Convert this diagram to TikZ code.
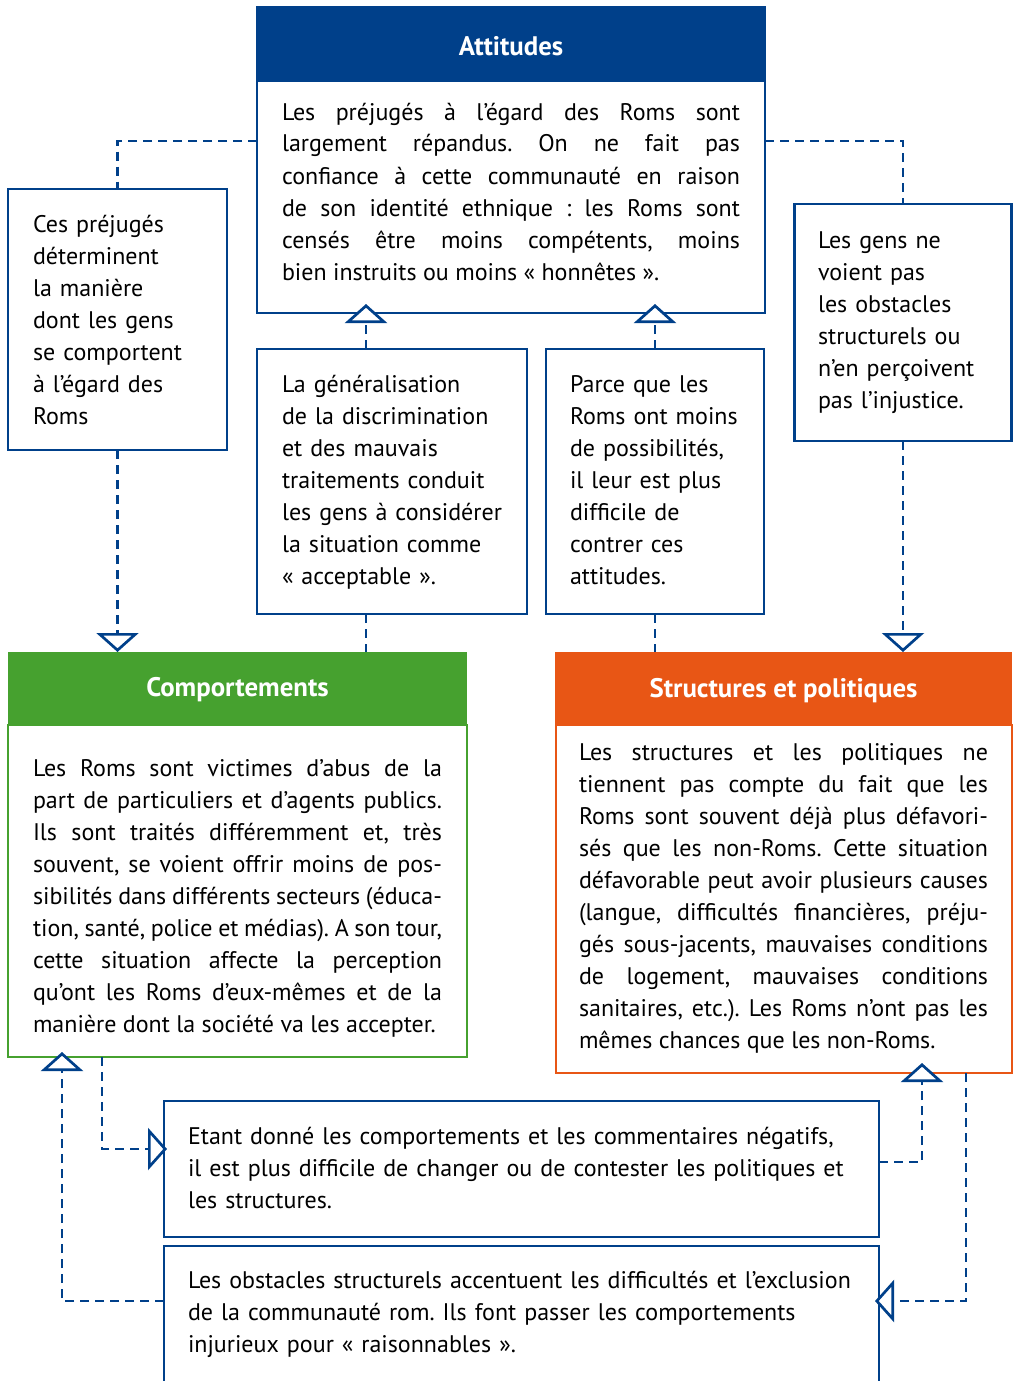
\documentclass[tikz,border=0pt]{standalone}
\usepackage{fontspec}
\setmainfont{PT Sans}
\usetikzlibrary{arrows.meta,calc}
\definecolor{rblue}{RGB}{0,64,138}
\definecolor{rgreen}{RGB}{70,161,47}
\definecolor{rorange}{RGB}{232,86,21}
\newcommand\rbody{\fontsize{24}{32}\selectfont}
\newcommand\rtitle{\fontsize{26.8}{30}\selectfont\bfseries}
\AtBeginDocument{\frenchspacing\tolerance=10000 \pretolerance=-1 \hyphenpenalty=10000 \exhyphenpenalty=10000 \emergencystretch=0pt}
\begin{document}
\begin{tikzpicture}[x=1pt,y=-1pt,
  rbox/.style={draw=rblue, line width=2.6pt, inner sep=0pt, outer sep=0pt, fill=white},
  gbox/.style={draw=rgreen, line width=2pt, inner sep=0pt, outer sep=0pt},
  obox/.style={draw=rorange, line width=2pt, inner sep=0pt, outer sep=0pt},
  txt/.style={font=\rbody, inner sep=0pt, outer sep=0pt, anchor=base west, text=black},
  jtxt/.style={txt, align=justify},
  ltxt/.style={txt, align=left},
  ttl/.style={font=\rtitle, text=white, inner sep=0pt, anchor=base},
  conn/.style={draw=rblue, line width=2.7pt, dash pattern=on 9pt off 6pt},
  tri/.style={-{Triangle[length=19pt,width=42pt,fill=white]}}
]
\useasboundingbox (0,0) rectangle (1013,1381);
\clip (0,0) rectangle (1013,1381);

% Attitudes
\node[rbox, fill=rblue, minimum width=508pt, minimum height=74pt] (atth) at (511,44) {};
\node[rbox, minimum width=508pt, minimum height=232pt] (attb) at (511,197) {};
\node[ttl] (attt) at (511,56) {Attitudes};
\node[jtxt, text width=458pt] (attx) at (282,120) {Les préjugés à l’égard des Roms sont\linebreak
largement répandus. On ne fait pas\linebreak
confiance à cette communauté en raison\linebreak
de son identité ethnique : les Roms sont\linebreak
censés être moins compétents, moins\linebreak
bien instruits ou moins «~honnêtes~».};

% side boxes
\node[rbox, minimum width=219pt, minimum height=261pt] (lbox) at (117.5,319.5) {};
\node[ltxt, text width=190pt] (lx) at (33,232) {Ces préjugés\\ déterminent\\ la manière\\ dont les gens\\ se comportent\\ à l’égard des\\ Roms};
\node[rbox, minimum width=217pt, minimum height=237pt] (rbox) at (903,322.5) {};
\node[ltxt, text width=190pt] (rx) at (818,248) {Les gens ne\\ voient pas\\ les obstacles\\ structurels ou\\ n’en perçoivent\\ pas l’injustice.};

% middle boxes
\node[rbox, minimum width=270pt, minimum height=265pt] (m1) at (392,481.5) {};
\node[ltxt, text width=240pt] (m1x) at (282,392) {La généralisation\\ de la discrimination\\ et des mauvais\\ traitements conduit\\ les gens à considérer\\ la situation comme\\ «~acceptable~».};
\node[rbox, minimum width=218pt, minimum height=265pt] (m2) at (655,481.5) {};
\node[ltxt, text width=190pt] (m2x) at (570,392) {Parce que les\\ Roms ont moins\\ de possibilités,\\ il leur est plus\\ difficile de\\ contrer ces\\ attitudes.};

% Comportements
\node[inner sep=0pt, outer sep=0pt, fill=rgreen, minimum width=459pt, minimum height=73pt] (comph) at (237.5,688.5) {};
\node[gbox, minimum width=459pt, minimum height=332pt] (compb) at (237.5,891) {};
\node[ttl] (compt) at (237.5,696) {Comportements};
\node[jtxt, text width=409pt] (compx) at (33,776) {Les Roms sont victimes d’abus de la\linebreak
part de particuliers et d’agents publics.\linebreak
Ils sont traités différemment et, très\linebreak
souvent, se voient offrir moins de pos-\linebreak
sibilités dans différents secteurs (éduca-\linebreak
tion, santé, police et médias). A son tour,\linebreak
cette situation affecte la perception\linebreak
qu’ont les Roms d’eux-mêmes et de la\linebreak
manière dont la société va les accepter.};

% Structures et politiques
\node[inner sep=0pt, outer sep=0pt, fill=rorange, minimum width=457pt, minimum height=73pt] (struh) at (783.5,688.5) {};
\node[obox, minimum width=456pt, minimum height=348pt] (strub) at (783.5,899) {};
\node[ttl] (strut) at (783.5,697) {Structures et politiques};
\node[jtxt, text width=409pt] (strux) at (579,760) {Les structures et les politiques ne\linebreak
tiennent pas compte du fait que les\linebreak
Roms sont souvent déjà plus défavori-\linebreak
sés que les non-Roms. Cette situation\linebreak
défavorable peut avoir plusieurs causes\linebreak
(langue, difficultés financières, préju-\linebreak
gés sous-jacents, mauvaises conditions\linebreak
de logement, mauvaises conditions\linebreak
sanitaires, etc.). Les Roms n’ont pas les\linebreak
mêmes chances que les non-Roms.};

% bottom boxes
\node[rbox, minimum width=715pt, minimum height=136pt] (b1) at (521.5,1169) {};
\node[ltxt, text width=680pt] (b1x) at (188,1144) {Etant donné les comportements et les commentaires négatifs,\\ il est plus difficile de changer ou de contester les politiques et\\ les structures.};
\node[rbox, minimum width=715pt, minimum height=174pt] (b2) at (521.5,1333) {};
\node[ltxt, text width=680pt] (b2x) at (188,1288) {Les obstacles structurels accentuent les difficultés et l’exclusion\\ de la communauté rom. Ils font passer les comportements\\ injurieux pour «~raisonnables~».};

% helper coordinates
\coordinate (yA) at (0,141);
\coordinate (xM) at (366,0);
\coordinate (yB) at (0,1301);
\coordinate (xL) at (62,0);
\coordinate (xL2) at (102,0);
\coordinate (yC) at (0,1149);
\coordinate (xR) at (922,0);
\coordinate (yD) at (0,1162);
\coordinate (xR2) at (966,0);

% connectors
\draw[conn] (attb.west |- yA) -| (lbox.north);
\draw[conn] (attb.east |- yA) -| (rbox.north);
\draw[conn,tri] (lbox.south) -- (lbox.south |- comph.north);
\draw[conn,tri] (rbox.south) -- (rbox.south |- struh.north);
\draw[conn,tri,shorten >=-9pt] (m1.north -| xM) -- (attb.south -| xM);
\draw[conn] (m1.south -| xM) -- (comph.north -| xM);
\draw[conn,tri,shorten >=-9pt] (m2.north) -- (m2.north |- attb.south);
\draw[conn] (m2.south) -- (m2.south |- struh.north);
\draw[conn,tri,shorten >=-5pt] (b2.west |- yB) -| (compb.south -| xL);
\draw[conn,tri,shorten >=-3pt] (compb.south -| xL2) |- (b1.west |- yC);
\draw[conn,tri,shorten >=-10pt] (b1.east |- yD) -| (strub.south -| xR);
\draw[conn,tri,shorten >=-4pt] (strub.south -| xR2) |- (b2.east |- yB);
\end{tikzpicture}
\end{document}
